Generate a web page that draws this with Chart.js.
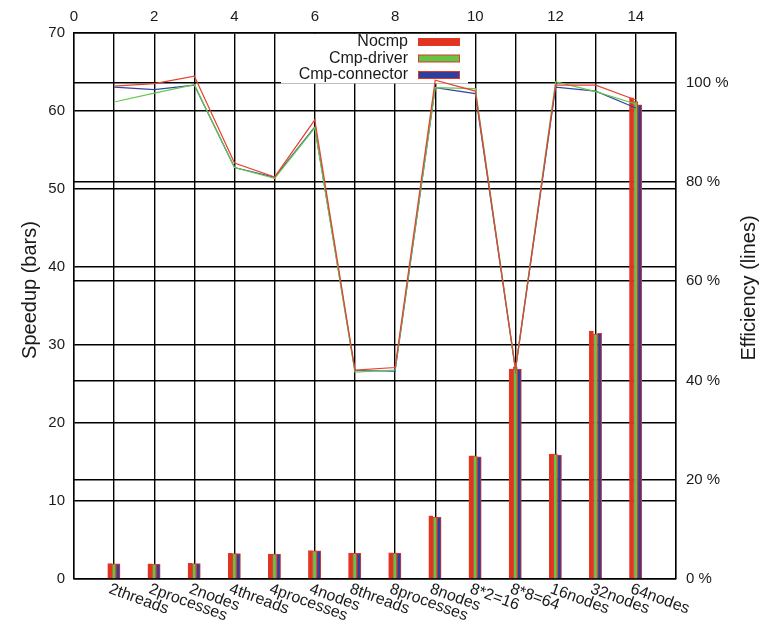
<!DOCTYPE html>
<html>
<head>
<meta charset="utf-8">
<script src="https://cdn.jsdelivr.net/npm/chart.js@4.4.1/dist/chart.umd.min.js"></script>
<style>
  html, body { margin: 0; padding: 0; background: #fff; }
  #wrap { width: 759px; height: 623px; }
</style>
</head>
<body>
<div id="wrap"><canvas id="speedupChart"></canvas></div>
<script>
// run configurations, one group of bars per configuration
const configs = ['2threads', '2processes', '2nodes', '4threads', '4processes', '4nodes',
  '8threads', '8processes', '8nodes', '8*2=16', '8*8=64', '16nodes', '32nodes', '64nodes'];

// speedup (left axis, bars)
const speedupNocmp     = [1.97, 1.93, 2.00, 3.30, 3.20, 3.65, 3.33, 3.37, 8.10, 15.80, 26.9, 16.0, 31.8, 61.7];
const speedupDriver    = [1.93, 1.92, 1.97, 3.27, 3.18, 3.60, 3.30, 3.33, 7.90, 15.80, 27.2, 16.0, 31.4, 61.2];
const speedupConnector = [1.93, 1.92, 1.97, 3.27, 3.18, 3.60, 3.30, 3.33, 7.90, 15.65, 26.9, 15.9, 31.5, 60.8];

// efficiency (right axis, lines)
const effNocmp     = [0.993, 0.998, 1.013, 0.838, 0.810, 0.925, 0.421, 0.426, 1.005, 0.983, 0.423, 0.995, 0.995, 0.965];
const effDriver    = [0.961, 0.979, 0.996, 0.829, 0.807, 0.909, 0.417, 0.421, 0.990, 0.988, 0.423, 1.002, 0.982, 0.957];
const effConnector = [0.991, 0.986, 0.995, 0.829, 0.809, 0.911, 0.420, 0.419, 0.990, 0.978, 0.421, 0.991, 0.983, 0.949];

const seriesNames = ['Nocmp', 'Cmp-driver', 'Cmp-connector'];
const barColors = ['#e2331f', '#63c447', '#2f3f9c'];
const lineColors = ['#e8412f', '#62c94c', '#3545a0'];
const edgeColor = '#e0392a';

const FONT = '"Liberation Sans", Arial, sans-serif';
const INK = '#1a1a1a';

function points(values) {
  return values.map((v, i) => ({ x: i + 1, y: v }));
}

const barSets = [speedupNocmp, speedupDriver, speedupConnector].map((vals, k) => ({
  type: 'bar',
  label: seriesNames[k],
  data: points(vals),
  xAxisID: 'xbar',
  yAxisID: 'y',
  backgroundColor: barColors[k],
  borderColor: edgeColor,
  borderWidth: 1,
  barThickness: 4.1,
  order: 2
}));

const lineSets = [effNocmp, effDriver, effConnector].map((vals, k) => ({
  type: 'line',
  label: seriesNames[k] + ' efficiency',
  data: points(vals),
  xAxisID: 'x',
  yAxisID: 'y2',
  borderColor: lineColors[k],
  borderWidth: 1.2,
  pointRadius: 0,
  tension: 0,
  fill: false,
  order: 1
}));

// key box in the upper middle of the plot, drawn before the lines
const keyBox = {
  id: 'keyBox',
  beforeDatasetsDraw(chart) {
    const ctx = chart.ctx;
    ctx.save();
    ctx.fillStyle = '#fff';
    ctx.fillRect(281, 34, 187, 49.5);
    ctx.font = '16px ' + FONT;
    ctx.textAlign = 'right';
    ctx.textBaseline = 'middle';
    const rows = [42, 58.5, 75];
    barSets.forEach((ds, k) => {
      ctx.fillStyle = INK;
      ctx.fillText(ds.label, 408, rows[k]);
      ctx.fillStyle = ds.backgroundColor;
      ctx.fillRect(418.5, rows[k] - 3.5, 41, 7);
      ctx.strokeStyle = edgeColor;
      ctx.lineWidth = 1;
      ctx.strokeRect(418.5, rows[k] - 3.5, 41, 7);
    });
    ctx.restore();
  }
};

// slanted configuration names under the plot and both axis titles
const extraText = {
  id: 'extraText',
  afterDraw(chart) {
    const ctx = chart.ctx;
    const xs = chart.scales.x;
    const area = chart.chartArea;
    ctx.save();
    ctx.fillStyle = INK;
    ctx.font = '16px ' + FONT;
    ctx.textAlign = 'left';
    ctx.textBaseline = 'top';
    configs.forEach((name, i) => {
      const px = xs.getPixelForValue(i + 1);
      ctx.save();
      ctx.translate(px - 2, area.bottom + 2);
      ctx.rotate(20 * Math.PI / 180);
      ctx.fillText(name, 0, 0);
      ctx.restore();
    });

    ctx.font = '20px ' + FONT;
    ctx.textAlign = 'center';
    ctx.textBaseline = 'middle';
    ctx.save();
    ctx.translate(30, 290);
    ctx.rotate(-Math.PI / 2);
    ctx.fillText('Speedup (bars)', 0, 0);
    ctx.restore();
    ctx.save();
    ctx.translate(749, 288);
    ctx.rotate(-Math.PI / 2);
    ctx.fillText('Efficiency (lines)', 0, 0);
    ctx.restore();
    ctx.restore();
  }
};

const gridStyle = { color: '#000', lineWidth: 1.4, drawTicks: false, offset: false };
const borderStyle = { color: '#000', width: 1.4 };

new Chart(document.getElementById('speedupChart'), {
  data: { datasets: [...lineSets, ...barSets] },
  options: {
    responsive: true,
    maintainAspectRatio: false,
    animation: false,
    layout: { padding: { bottom: 44 } },
    plugins: { legend: { display: false }, tooltip: { enabled: false } },
    scales: {
      x: {
        type: 'linear',
        position: 'top',
        offset: false,
        min: 0,
        max: 15,
        grid: gridStyle,
        border: borderStyle,
        ticks: {
          stepSize: 1,
          autoSkip: false,
          maxRotation: 0,
          padding: 7,
          color: INK,
          font: { family: FONT, size: 15 },
          callback: v => (v % 2 === 0 ? v : '')
        },
        afterFit: s => { s.height = 33; }
      },
      // bar groups sit a little right of each grid line
      xbar: {
        type: 'linear',
        position: 'top',
        display: false,
        offset: false,
        min: -0.045,
        max: 14.955,
        ticks: { stepSize: 1, includeBounds: false }
      },
      y: {
        type: 'linear',
        position: 'left',
        min: 0,
        max: 70,
        grid: gridStyle,
        border: borderStyle,
        ticks: {
          stepSize: 10,
          padding: 9,
          color: INK,
          font: { family: FONT, size: 15 }
        },
        afterFit: s => { s.width = 74; }
      },
      y2: {
        type: 'linear',
        position: 'right',
        min: 0,
        max: 1.1,
        grid: gridStyle,
        border: borderStyle,
        ticks: {
          stepSize: 0.2,
          includeBounds: false,
          padding: 10,
          color: INK,
          font: { family: FONT, size: 15 },
          callback: v => Math.round(v * 100) + ' %'
        },
        afterFit: s => { s.width = 83; }
      }
    }
  },
  plugins: [keyBox, extraText]
});
</script>
</body>
</html>
